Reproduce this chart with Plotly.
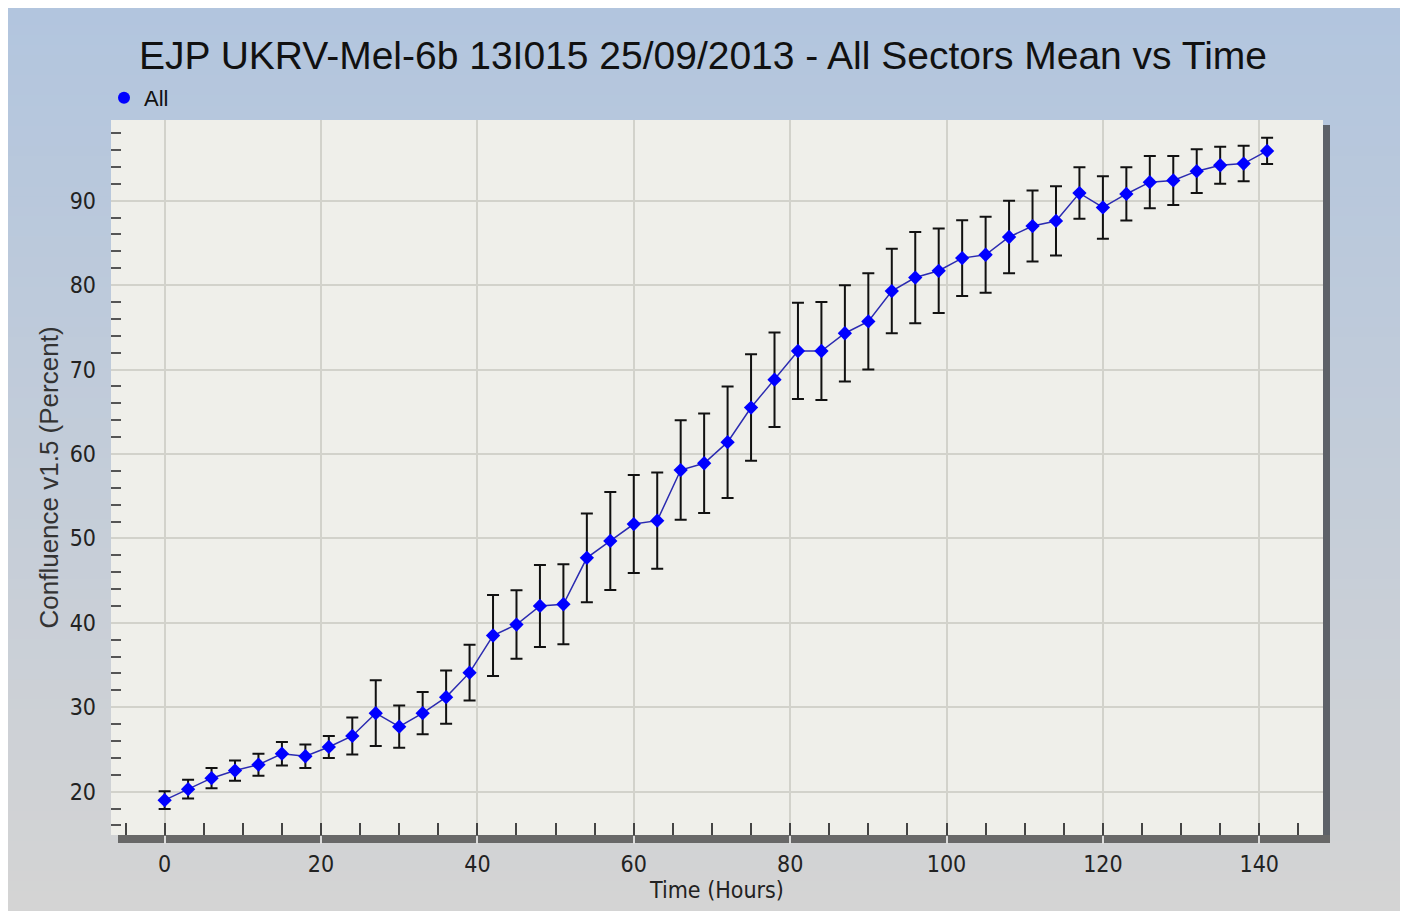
import plotly.graph_objects as go

# ---------------- data ----------------
hours = [0, 3, 6, 9, 12, 15, 18, 21, 24, 27, 30, 33, 36, 39, 42, 45, 48, 51, 54, 57,
         60, 63, 66, 69, 72, 75, 78, 81, 84, 87, 90, 93, 96, 99, 102, 105, 108, 111,
         114, 117, 120, 123, 126, 129, 132, 135, 138, 141]
confluence = [19.0, 20.3, 21.6, 22.5, 23.2, 24.5, 24.2, 25.3, 26.6, 29.3, 27.7, 29.3,
              31.2, 34.1, 38.5, 39.8, 42.0, 42.2, 47.7, 49.7, 51.7, 52.1, 58.1, 58.9,
              61.4, 65.5, 68.8, 72.2, 72.2, 74.3, 75.7, 79.3, 80.9, 81.7, 83.2, 83.6,
              85.7, 87.0, 87.6, 90.9, 89.2, 90.8, 92.2, 92.4, 93.5, 94.2, 94.4, 95.9]
std_err = [1.05, 1.1, 1.2, 1.2, 1.3, 1.4, 1.4, 1.3, 2.2, 3.9, 2.5, 2.5, 3.15, 3.3,
           4.8, 4.05, 4.85, 4.75, 5.25, 5.8, 5.8, 5.7, 5.9, 5.9, 6.6, 6.3, 5.6, 5.7,
           5.8, 5.7, 5.7, 5.0, 5.4, 5.0, 4.5, 4.5, 4.3, 4.2, 4.1, 3.05, 3.7, 3.15,
           3.1, 2.9, 2.6, 2.2, 2.1, 1.55]
series_name = "All"
title_text = "EJP UKRV-Mel-6b 13I015 25/09/2013 - All Sectors Mean vs Time"
x_title = "Time (Hours)"
y_title = "Confluence v1.5 (Percent)"

# ---------------- layout geometry ----------------
OFF = 8  # page body margin
W, H = 1408 - OFF, 915 - OFF
L, R, T, B = 111 - OFF, 85, 120 - OFF, 80
PW, PH = W - L - R, H - T - B


def fx(p):
    return (p - OFF - L) / PW


def fy(p):
    return 1 - (p - OFF - T) / PH


def mix(c1, c2, t):
    return "rgb(%d,%d,%d)" % tuple(round(a + (b - a) * t) for a, b in zip(c1, c2))


shapes = []
# background gradient (blue at top -> grey at bottom)
top_c, bot_c = (178, 197, 222), (212, 212, 212)
n = 90
y_top, y_bot = 5, 911
for i in range(n):
    p0 = y_top + (y_bot - y_top) * i / n
    p1 = y_top + (y_bot - y_top) * (i + 1) / n + 0.8
    shapes.append(dict(type="rect", xref="paper", yref="paper", layer="below",
                       x0=fx(5), x1=fx(1403), y0=fy(min(p1, y_bot)), y1=fy(p0),
                       fillcolor=mix(top_c, bot_c, i / (n - 1)), line_width=0))
# right shadow and bottom bar
shapes.append(dict(type="rect", xref="paper", yref="paper", layer="below",
                   x0=fx(1322), x1=fx(1330), y0=fy(843), y1=fy(125),
                   fillcolor="#5d6168", line_width=0))
shapes.append(dict(type="rect", xref="paper", yref="paper", layer="below",
                   x0=fx(118), x1=fx(1330), y0=fy(843), y1=fy(835),
                   fillcolor="#686868", line_width=0))
# plot area background
shapes.append(dict(type="rect", xref="paper", yref="paper", layer="below",
                   x0=0, x1=1, y0=0, y1=1, fillcolor="#efefea", line_width=0))

narrow = "Liberation Sans Narrow, Arial Narrow, DejaVu Sans Condensed, sans-serif"
regular = "Liberation Sans, Arial, sans-serif"

fig = go.Figure()
fig.add_trace(go.Scatter(
    x=hours, y=confluence, mode="lines+markers", name=series_name, showlegend=False,
    line=dict(color="#2b2bb0", width=1.5),
    marker=dict(symbol="diamond", size=11, color="#0000ff", line=dict(width=0)),
    error_y=dict(type="data", array=std_err, visible=True, color="#111111",
                 thickness=2, width=6),
))
fig.add_trace(go.Scatter(
    x=[None], y=[None], mode="markers", name=series_name, showlegend=True,
    marker=dict(symbol="circle", size=12, color="#0000ff"),
))

fig.update_layout(
    width=W, height=H,
    margin=dict(l=L, r=R, t=T, b=B, autoexpand=False),
    paper_bgcolor="white",
    plot_bgcolor="rgba(0,0,0,0)",
    shapes=shapes,
    title=dict(text=title_text, x=(703 - OFF) / W, xref="container", xanchor="center",
               y=1 - (55 - OFF) / H, yref="container", yanchor="middle",
               font=dict(family=regular, size=39, color="#111111")),
    legend=dict(x=fx(104), y=fy(98), xanchor="left", yanchor="middle",
                bgcolor="rgba(0,0,0,0)", borderwidth=0,
                font=dict(family=regular, size=22, color="#111111")),
    xaxis=dict(
        range=[-6.86, 148.15], tick0=0, dtick=20, showgrid=True,
        gridcolor="#d2d2cb", gridwidth=1.5, zeroline=False, showline=False,
        ticks="outside", ticklen=8, tickwidth=2, tickcolor="#dcdcdc",
        tickfont=dict(family=narrow, size=23, color="#222222"),
        ticklabelstandoff=0,
        minor=dict(tick0=0, dtick=5, ticks="inside", ticklen=12, tickwidth=1.5,
                   tickcolor="#444444", showgrid=False),
        title=dict(text=x_title, standoff=6,
                   font=dict(family=narrow, size=23, color="#222222")),
    ),
    yaxis=dict(
        range=[14.87, 99.56], tick0=0, dtick=10, showgrid=True,
        gridcolor="#d2d2cb", gridwidth=1.5, zeroline=False, showline=False,
        ticks="", ticklabelstandoff=14,
        tickfont=dict(family=narrow, size=23, color="#222222"),
        minor=dict(tick0=0, dtick=2, ticks="inside", ticklen=10, tickwidth=2,
                   tickcolor="#555555", showgrid=False),
        title=dict(text=y_title, standoff=3,
                   font=dict(family=regular, size=26, color="#333333")),
    ),
)

fig.write_html("out.html")
